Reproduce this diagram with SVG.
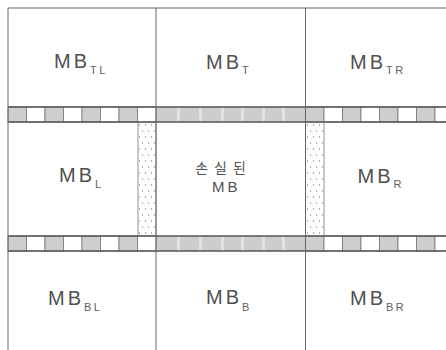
<svg xmlns="http://www.w3.org/2000/svg" width="446" height="350" viewBox="0 0 446 350">
<style>
.ln{stroke:#666;stroke-width:1;fill:none}
.sb{stroke:#555;stroke-width:1.3;fill:none}
.g{fill:#cecece;stroke:#777;stroke-width:0.8}
.w{fill:#fff;stroke:#777;stroke-width:0.8}
.mid{fill:#cdcdcd}
.st{fill:#e2e2e2}
.t{font-family:"Liberation Sans",Arial,sans-serif;fill:#505050;font-size:20px;letter-spacing:3px}
.s{font-size:11px;letter-spacing:2.5px;fill:#606060}
.k{font-family:"Noto Sans CJK KR","Noto Sans",sans-serif;fill:#555;font-size:14px;letter-spacing:6px}
</style>
<defs>
<pattern id="dots" x="138" y="122" width="6" height="12" patternUnits="userSpaceOnUse">
<circle cx="1.5" cy="3" r="0.7" fill="#888"/>
<circle cx="4.5" cy="9" r="0.7" fill="#888"/>
</pattern>
<g id="midstrip">
<rect class="mid" x="156" y="0" width="149.5" height="15"/>
<rect class="st" x="177" y="0" width="3" height="15"/>
<rect class="st" x="199" y="0" width="3" height="15"/>
<rect class="st" x="221" y="0" width="3" height="15"/>
<rect class="st" x="241" y="0" width="3" height="15"/>
<rect class="st" x="262" y="0" width="3" height="15"/>
<rect class="st" x="282" y="0" width="3" height="15"/>
</g>
<g id="sidecells">
<rect class="g" x="8" y="0" width="18.5" height="15"/>
<rect class="w" x="26.5" y="0" width="18.5" height="15"/>
<rect class="g" x="45" y="0" width="18.5" height="15"/>
<rect class="w" x="63.5" y="0" width="18.5" height="15"/>
<rect class="g" x="82" y="0" width="18.5" height="15"/>
<rect class="w" x="100.5" y="0" width="18.5" height="15"/>
<rect class="g" x="119" y="0" width="18.5" height="15"/>
<rect class="w" x="137.5" y="0" width="18.5" height="15"/>
<rect class="g" x="305.5" y="0" width="18.5" height="15"/>
<rect class="w" x="324" y="0" width="18.5" height="15"/>
<rect class="g" x="342.5" y="0" width="18.5" height="15"/>
<rect class="w" x="361" y="0" width="18.5" height="15"/>
<rect class="g" x="379.5" y="0" width="18.5" height="15"/>
<rect class="w" x="398" y="0" width="18.5" height="15"/>
<rect class="g" x="416.5" y="0" width="18.5" height="15"/>
<rect class="w" x="435" y="0" width="18.5" height="15"/>
</g>
</defs>
<rect width="446" height="350" fill="#fff"/>
<g id="connectors">
<g id="strip-top" transform="translate(0,107)">
<use href="#midstrip"/><use href="#sidecells"/>
<line class="sb" x1="8" y1="0" x2="446" y2="0"/>
<line class="sb" x1="8" y1="15" x2="446" y2="15"/>
</g>
<g id="strip-bottom" transform="translate(0,236)">
<use href="#midstrip"/><use href="#sidecells"/>
<line class="sb" x1="8" y1="0" x2="446" y2="0"/>
<line class="sb" x1="8" y1="15" x2="446" y2="15"/>
</g>
<rect id="dots-left" x="138" y="122" width="18" height="114" fill="url(#dots)" stroke="#777" stroke-width="0.8"/>
<rect id="dots-right" x="305.5" y="122" width="18.5" height="114" fill="url(#dots)" stroke="#777" stroke-width="0.8"/>
<line class="ln" x1="8" y1="8" x2="446" y2="8"/>
<line class="ln" x1="8" y1="8" x2="8" y2="350"/>
<line class="ln" x1="156" y1="8" x2="156" y2="350"/>
<line class="ln" x1="305.5" y1="8" x2="305.5" y2="350"/>
</g>
<g id="mb-tl"><text class="t" x="54" y="68">MB<tspan class="s" dx="0" dy="6">TL</tspan></text></g>
<g id="mb-t"><text class="t" x="206" y="69">MB<tspan class="s" dx="0" dy="5">T</tspan></text></g>
<g id="mb-tr"><text class="t" x="350" y="69">MB<tspan class="s" dx="0" dy="5">TR</tspan></text></g>
<g id="mb-l"><text class="t" x="59" y="182">MB<tspan class="s" dx="0" dy="6">L</tspan></text></g>
<g id="mb-lost">
<text class="k" x="223.5" y="173" text-anchor="middle">손실된</text>
<text class="t" x="212" y="192" style="font-size:15px">MB</text>
</g>
<g id="mb-r"><text class="t" x="357.5" y="182.5">MB<tspan class="s" dx="0" dy="5.5">R</tspan></text></g>
<g id="mb-bl"><text class="t" x="48" y="305">MB<tspan class="s" dx="0" dy="6">BL</tspan></text></g>
<g id="mb-b"><text class="t" x="206" y="304">MB<tspan class="s" dx="0" dy="6.5">B</tspan></text></g>
<g id="mb-br"><text class="t" x="350" y="305">MB<tspan class="s" dx="0" dy="6">BR</tspan></text></g>
</svg>
